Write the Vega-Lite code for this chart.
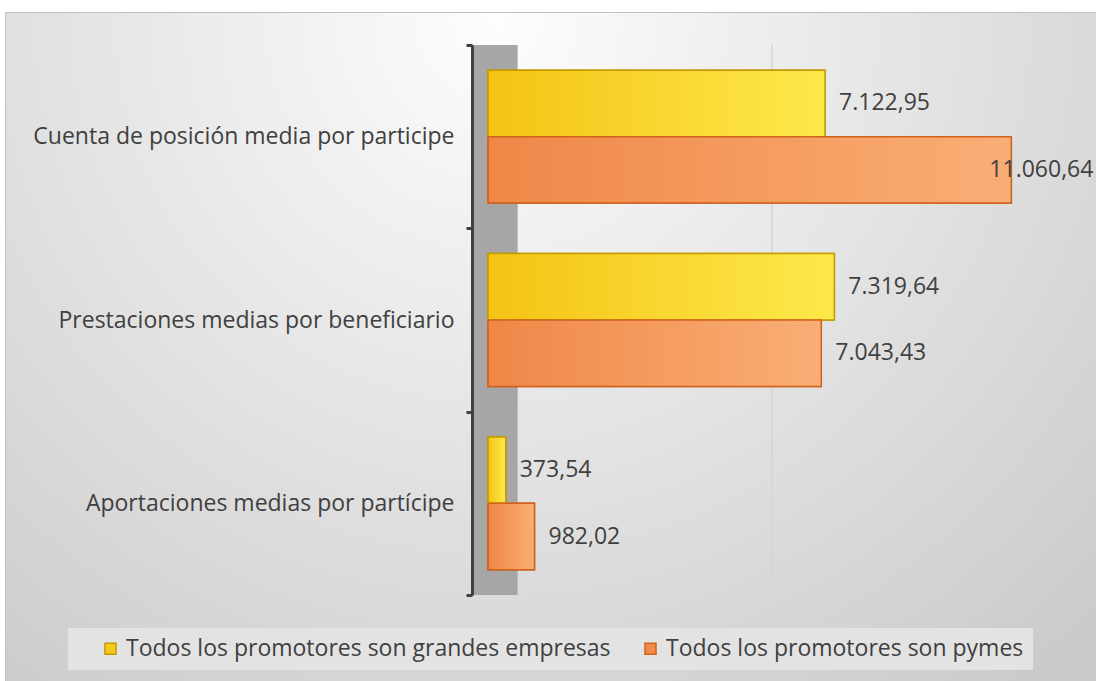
{
  "$schema": "https://vega.github.io/schema/vega-lite/v6.json",
  "width": 1091,
  "height": 669,
  "autosize": {"type": "none"},
  "padding": {"left": 5, "top": 12, "right": 0, "bottom": 0},
  "background": "#ffffff",
  "data": {
    "values": [
      {"category": "Cuenta de posición media por participe", "series": "Todos los promotores son grandes empresas", "value": 7122.95},
      {"category": "Cuenta de posición media por participe", "series": "Todos los promotores son pymes", "value": 11060.64},
      {"category": "Prestaciones medias por beneficiario", "series": "Todos los promotores son grandes empresas", "value": 7319.64},
      {"category": "Prestaciones medias por beneficiario", "series": "Todos los promotores son pymes", "value": 7043.43},
      {"category": "Aportaciones medias por partícipe", "series": "Todos los promotores son grandes empresas", "value": 373.54},
      {"category": "Aportaciones medias por partícipe", "series": "Todos los promotores son pymes", "value": 982.02}
    ]
  },
  "encoding": {
    "y": {
      "field": "category",
      "type": "nominal",
      "sort": null,
      "scale": {"range": [33, 583], "paddingInner": 0, "paddingOuter": 0},
      "axis": {
        "title": null,
        "offset": -467,
        "zindex": 1,
        "tickBand": "extent",
        "domainColor": "#404040",
        "domainWidth": 3,
        "tickColor": "#404040",
        "tickWidth": 3,
        "tickSize": 6,
        "labelFont": "Open Sans",
        "labelFontSize": 23,
        "labelColor": "#404040",
        "labelPadding": 12,
        "labelLimit": 460
      }
    }
  },
  "layer": [
    {
      "mark": {"type": "bar", "color": "#a6a6a6"},
      "encoding": {
        "x": {"datum": -350, "type": "quantitative", "scale": {"domain": [-10210, 12850], "nice": false, "zero": false}, "axis": null},
        "x2": {"datum": 620}
      }
    },
    {
      "mark": {"type": "bar", "color": "#d6d6d6"},
      "encoding": {
        "x": {"datum": 5988, "type": "quantitative"},
        "x2": {"datum": 6012}
      }
    },
    {
      "mark": {"type": "bar", "strokeWidth": 1.5},
      "encoding": {
        "x": {"field": "value", "type": "quantitative"},
        "yOffset": {"field": "series", "type": "nominal", "sort": null, "scale": {"paddingOuter": 0.38, "paddingInner": 0}},
        "color": {
          "field": "series", "type": "nominal", "sort": null,
          "scale": {"range": ["#f7c81c", "#f08c4e"]},
          "legend": {
            "title": " ",
            "titleOrient": "left",
            "titlePadding": 22,
            "orient": "none",
            "legendX": 63,
            "legendY": 616,
            "direction": "horizontal",
            "fillColor": "#e3e3e3",
            "padding": 9,
            "labelFont": "Open Sans",
            "labelFontSize": 23,
            "labelColor": "#404040",
            "labelOffset": 4,
            "labelLimit": 600,
            "symbolType": "square",
            "symbolSize": 121,
            "symbolStrokeWidth": 1.5,
            "columnPadding": 28
          }
        },
        "stroke": {
          "field": "series", "type": "nominal", "sort": null,
          "scale": {"range": ["#c49a00", "#d0621a"]}
        }
      }
    },
    {
      "transform": [{"filter": "datum.series == 'Todos los promotores son grandes empresas'"}],
      "mark": {
        "type": "bar", "strokeWidth": 1.5, "stroke": "#c49a00",
        "fill": {"gradient": "linear", "x1": 0, "y1": 0, "x2": 1, "y2": 0,
          "stops": [{"offset": 0, "color": "#f4c314"}, {"offset": 0.5, "color": "#f9d630"}, {"offset": 1, "color": "#fce94a"}]}
      },
      "encoding": {
        "x": {"field": "value", "type": "quantitative"},
        "yOffset": {"field": "series", "type": "nominal", "sort": null}
      }
    },
    {
      "transform": [{"filter": "datum.series == 'Todos los promotores son pymes'"}],
      "mark": {
        "type": "bar", "strokeWidth": 1.5, "stroke": "#d0621a",
        "fill": {"gradient": "linear", "x1": 0, "y1": 0, "x2": 1, "y2": 0,
          "stops": [{"offset": 0, "color": "#ee8748"}, {"offset": 0.5, "color": "#f59b5e"}, {"offset": 1, "color": "#f9ae76"}]}
      },
      "encoding": {
        "x": {"field": "value", "type": "quantitative"},
        "yOffset": {"field": "series", "type": "nominal", "sort": null}
      }
    },
    {
      "transform": [{"filter": "datum.value < 10000"}],
      "mark": {"type": "text", "align": "left", "baseline": "middle", "dx": 14, "font": "Open Sans", "fontSize": 23, "color": "#404040"},
      "encoding": {
        "x": {"field": "value", "type": "quantitative"},
        "yOffset": {"field": "series", "type": "nominal", "sort": null},
        "text": {"field": "value", "type": "quantitative", "format": ",.2f"}
      }
    },
    {
      "transform": [{"filter": "datum.value >= 10000"}],
      "mark": {"type": "text", "align": "left", "baseline": "middle", "dx": -22, "font": "Open Sans", "fontSize": 23, "color": "#404040"},
      "encoding": {
        "x": {"field": "value", "type": "quantitative"},
        "yOffset": {"field": "series", "type": "nominal", "sort": null},
        "text": {"field": "value", "type": "quantitative", "format": ",.2f"}
      }
    }
  ],
  "config": {
    "font": "Open Sans",
    "locale": {"number": {"decimal": ",", "thousands": ".", "grouping": [3], "currency": ["", " €"]}},
    "view": {
      "stroke": "#bfbfbf",
      "fill": {
        "gradient": "radial",
        "x1": 0.45, "y1": 0.2, "r1": 0,
        "x2": 0.45, "y2": 0.2, "r2": 0.8,
        "stops": [
          {"offset": 0, "color": "#fdfdfd"},
          {"offset": 1, "color": "#c9c9c9"}
        ]
      }
    }
  }
}
